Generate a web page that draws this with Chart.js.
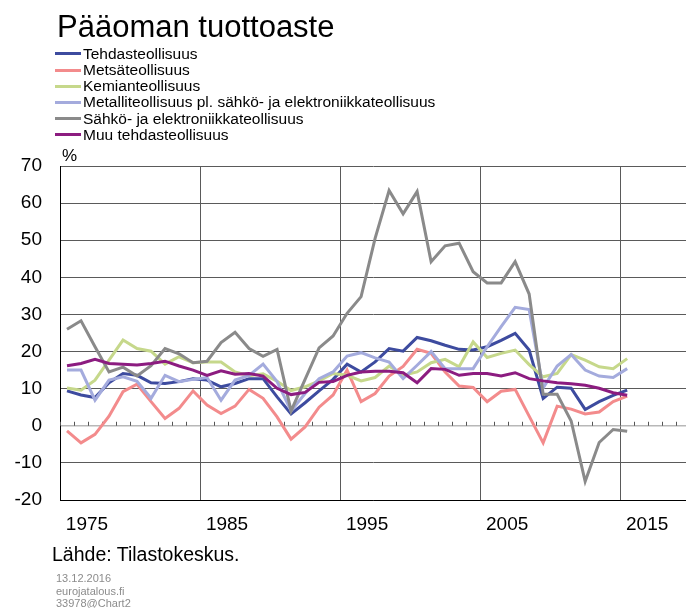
<!DOCTYPE html>
<html lang="fi">
<head>
<meta charset="utf-8">
<title>Pääoman tuottoaste</title>
<script src="https://cdn.jsdelivr.net/npm/chart.js@4.4.1/dist/chart.umd.min.js"></script>
<style>
  body { margin: 0; background: #fff; font-family: "Liberation Sans", Arial, sans-serif; }
  #wrap { position: relative; width: 686px; height: 608px; overflow: hidden; }
  #chart { position: absolute; left: 0; top: 0; }
  .txt { position: absolute; line-height: 1; white-space: nowrap; color: #000; }
  #title { left: 57px; top: 10.5px; font-size: 31px; }
  #legend { position: absolute; left: 55px; top: 45.8px; font-size: 15.5px; }
  #legend div { position: relative; height: 16.2px; line-height: 16.2px; padding-left: 28px; white-space: nowrap; }
  #legend span { position: absolute; left: 0; top: 6.6px; width: 26px; height: 3px; }
  #unit { left: 62px; top: 146.6px; font-size: 17px; }
  #source { left: 52px; top: 544.5px; font-size: 19.5px; }
  #meta { left: 56px; top: 571.8px; font-size: 11px; line-height: 12.7px; color: #8c8c8c; }
</style>
</head>
<body>
<div id="wrap">
  <canvas id="chart" width="686" height="608"></canvas>
  <div class="txt" id="title">Pääoman tuottoaste</div>
  <div id="legend"></div>
  <div class="txt" id="unit">%</div>
  <div class="txt" id="source">Lähde: Tilastokeskus.</div>
  <div class="txt" id="meta">13.12.2016<br>eurojatalous.fi<br>33978@Chart2</div>
</div>
<script>
// Vuodet ja sarjat (luettu kuvasta)
const years = [1975, 1976, 1977, 1978, 1979, 1980, 1981, 1982, 1983, 1984,
               1985, 1986, 1987, 1988, 1989, 1990, 1991, 1992, 1993, 1994,
               1995, 1996, 1997, 1998, 1999, 2000, 2001, 2002, 2003, 2004,
               2005, 2006, 2007, 2008, 2009, 2010, 2011, 2012, 2013, 2014, 2015];

const tehdas = [9.4, 8.3, 7.6, 11.6, 14.1, 13.6, 11.6, 11.4, 11.9, 12.7,
                12.3, 10.5, 11.4, 12.7, 12.7, 7.8, 3.2, 6.2, 9.4, 12.5,
                16.6, 14.5, 17.2, 20.8, 20.1, 23.8, 22.9, 21.7, 20.6, 20.4,
                21.3, 23.0, 24.9, 20.4, 7.4, 10.4, 10.1, 4.4, 6.5, 8.2, 9.6];

const metsa = [-1.4, -4.6, -2.3, 2.6, 9.2, 11.2, 6.5, 2.0, 4.7, 9.4,
               5.6, 3.3, 5.3, 9.8, 7.4, 2.4, -3.6, -0.3, 5.0, 8.3,
               15.0, 6.5, 8.7, 13.4, 16.0, 20.6, 19.5, 14.5, 10.7, 10.3,
               6.5, 9.3, 9.8, 2.6, -4.6, 5.3, 4.5, 3.2, 3.7, 6.5, 8.0];

const kemia = [10.2, 9.6, 12.3, 17.7, 23.1, 20.8, 20.1, 16.6, 18.6, 17.0,
               17.2, 17.2, 14.5, 13.5, 14.0, 12.0, 9.5, 10.5, 12.1, 14.1,
               13.6, 12.1, 13.0, 16.1, 13.6, 14.5, 17.0, 17.9, 15.9, 22.6,
               18.4, 19.5, 20.4, 16.5, 13.2, 14.1, 19.2, 17.7, 15.9, 15.4, 18.1];

const metalli = [15.0, 15.0, 6.9, 12.3, 13.2, 12.0, 7.4, 13.6, 11.9, 12.5,
                 13.0, 6.9, 12.3, 13.6, 16.6, 11.9, 4.0, 8.7, 12.7, 14.5,
                 18.8, 19.7, 18.3, 17.2, 12.7, 16.3, 20.0, 15.4, 15.4, 15.4,
                 21.3, 26.7, 31.9, 31.3, 10.2, 16.1, 19.2, 15.0, 13.4, 13.0, 15.4];

const sahko = [26.0, 28.3, 21.3, 14.5, 15.8, 13.4, 16.2, 20.8, 19.4, 17.0,
               17.4, 22.4, 25.2, 20.8, 18.7, 20.6, 4.0, 12.5, 21.0, 24.2,
               30.3, 34.8, 50.5, 63.4, 57.1, 63.1, 44.2, 48.5, 49.2, 41.5,
               38.5, 38.5, 44.2, 35.5, 8.5, 8.5, 1.3, -15.0, -4.5, -1.0, -1.5];

const muu = [16.2, 16.8, 17.9, 16.8, 16.6, 16.4, 16.8, 17.4, 16.1, 15.0,
             13.6, 14.8, 13.9, 14.1, 13.4, 10.1, 8.4, 9.0, 11.7, 11.9,
             13.6, 14.5, 14.7, 14.7, 14.3, 11.6, 15.4, 15.2, 13.6, 14.1,
             14.1, 13.4, 14.3, 12.7, 12.1, 11.6, 11.3, 10.9, 10.1, 8.9, 8.2];

const seriesNames = ['Tehdasteollisuus', 'Metsäteollisuus', 'Kemianteollisuus',
                     'Metalliteollisuus pl. sähkö- ja elektroniikkateollisuus',
                     'Sähkö- ja elektroniikkateollisuus', 'Muu tehdasteollisuus'];
const seriesValues = [tehdas, metsa, kemia, metalli, sahko, muu];
const seriesColors = ['#3d4b9f', '#f38b8c', '#c6d88b', '#a4abdd', '#8a8a8a', '#8c1c80'];

const xTickYears = [1975, 1985, 1995, 2005, 2015];
const yMin = -20, yMax = 70, yStep = 10;

// Legenda HTML:nä, yksi rivi per sarja
const legendDiv = document.getElementById('legend');
seriesNames.forEach((name, i) => {
    const row = document.createElement('div');
    const swatch = document.createElement('span');
    swatch.style.background = seriesColors[i];
    row.appendChild(swatch);
    row.appendChild(document.createTextNode(name));
    legendDiv.appendChild(row);
});

// Pienet jakoviivat nollatasolle joka vuoden väliin
const yearTicks = {
    id: 'yearTicks',
    beforeDatasetsDraw(chart) {
        const { ctx, scales: { x, y } } = chart;
        const y0 = y.getPixelForValue(0);
        ctx.save();
        ctx.strokeStyle = '#555';
        ctx.lineWidth = 1;
        ctx.beginPath();
        for (let v = x.min; v <= x.max; v += 1) {
            const px = Math.round(x.getPixelForValue(v)) + 0.5;
            ctx.moveTo(px, y0 - 4);
            ctx.lineTo(px, y0);
        }
        ctx.stroke();
        ctx.restore();
    }
};

const datasets = seriesNames.map((name, i) => ({
    label: name,
    data: years.map((yr, j) => ({ x: yr, y: seriesValues[i][j] })),
    borderColor: seriesColors[i],
    backgroundColor: seriesColors[i],
    borderWidth: 3,
    pointRadius: 0,
    tension: 0,
    fill: false,
    order: seriesNames.length - i // viimeinen sarja päällimmäisenä
}));

new Chart(document.getElementById('chart'), {
    type: 'line',
    data: { datasets },
    plugins: [yearTicks],
    options: {
        responsive: false,
        animation: false,
        events: [],
        layout: { padding: { top: 166, right: 0, bottom: 68, left: 0 } },
        plugins: { legend: { display: false }, tooltip: { enabled: false } },
        scales: {
            x: {
                type: 'linear',
                min: xTickYears[0] - 0.5,
                max: 2019.2,
                afterBuildTicks: (axis) => {
                    axis.ticks = xTickYears.map(v => ({ value: v - 0.5 }));
                },
                afterFit: (axis) => { axis.height = 40; },
                ticks: {
                    autoSkip: false,
                    maxRotation: 0,
                    padding: 13,
                    labelOffset: 27,
                    color: '#000',
                    font: { family: '"Liberation Sans", Arial, sans-serif', size: 19 },
                    callback: (v) => String(Math.round(v + 0.5))
                },
                grid: { color: '#5a5a5a', lineWidth: 1, drawTicks: false },
                border: { display: true, color: '#000', width: 1 }
            },
            y: {
                min: yMin,
                max: yMax,
                afterFit: (axis) => { axis.width = 60; },
                ticks: {
                    stepSize: yStep,
                    padding: 18,
                    color: '#000',
                    font: { family: '"Liberation Sans", Arial, sans-serif', size: 19 }
                },
                grid: {
                    drawTicks: false,
                    lineWidth: (c) => c.tick && c.tick.value === 0 ? 1.5 : 1,
                    color: (c) => c.tick && c.tick.value === 0 ? '#b8b8b8' : '#5a5a5a'
                },
                border: { display: true, color: '#000', width: 1 }
            }
        }
    }
});
</script>
</body>
</html>
